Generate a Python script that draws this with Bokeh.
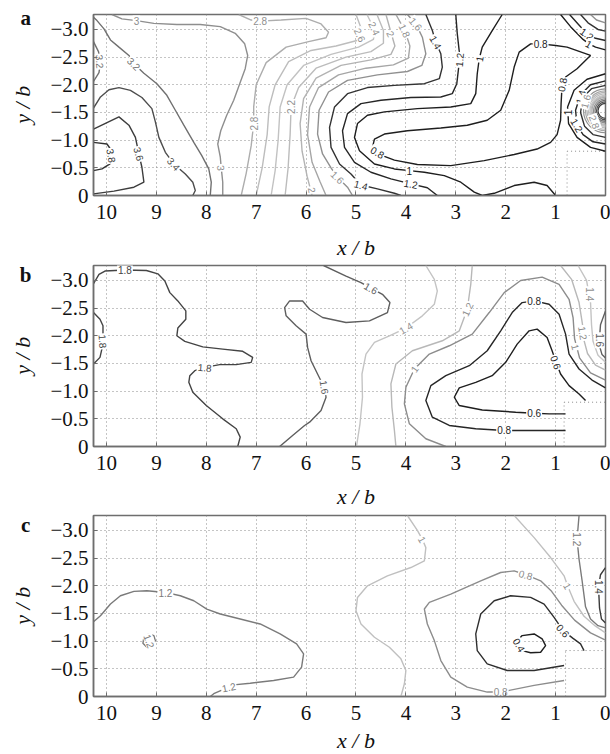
import math
from bokeh.plotting import figure
from bokeh.layouts import column
from bokeh.models import Range1d, FixedTicker, ColumnDataSource, Label, CustomJSTickFormatter
from bokeh.embed import file_html
from bokeh.resources import INLINE
from bokeh.core.properties import value

# ---------------- data ----------------
x_ticks = [10, 9, 8, 7, 6, 5, 4, 3, 2, 1, 0]
y_ticks = [-3.0, -2.5, -2.0, -1.5, -1.0, -0.5, 0.0]
panel_letters = ["a", "b", "c"]

# panel a: contour lines (level, [(x/b, y/b), ...])
a_lines = [
    (3.8, [(10.26, -0.96), (9.99, -0.93), (9.92, -0.84), (9.9, -0.72), (9.93, -0.57), (10.09, -0.48), (10.26, -0.45)]),
    (3.6, [(10.26, -1.2), (9.75, -1.42), (9.55, -1.27), (9.42, -1.05), (9.35, -0.75), (9.29, -0.51), (9.25, -0.24),
           (9.45, -0.15), (9.85, -0.08), (10.26, -0.03)]),
    (3.4, [(10.26, -1.58), (10.12, -1.78), (9.95, -1.91), (9.75, -1.95), (9.52, -1.9), (9.29, -1.77), (9.09, -1.57),
           (9.02, -1.33), (8.95, -1.05), (8.82, -0.78), (8.65, -0.57), (8.42, -0.39), (8.27, -0.24), (8.22, -0.09), (8.27, 0.0)]),
    (3.2, [(10.26, -3.22), (10.19, -3.16), (10.05, -3.01), (9.92, -2.81), (9.75, -2.68), (9.55, -2.53), (9.45, -2.38),
           (9.25, -2.21), (8.99, -2.02), (8.79, -1.81), (8.62, -1.54), (8.45, -1.27), (8.25, -0.96), (8.09, -0.72),
           (7.95, -0.48), (7.9, -0.24), (7.92, 0.0)]),
    (3.2, [(10.26, -2.78), (10.16, -2.6), (10.12, -2.42), (10.15, -2.22), (10.26, -2.06)]),
    (3.0, [(9.89, -3.27), (9.69, -3.19), (9.4, -3.16), (9.05, -3.11), (8.59, -3.09), (8.12, -3.09), (7.72, -3.05),
           (7.42, -2.93), (7.23, -2.74), (7.17, -2.53), (7.22, -2.29), (7.33, -2.02), (7.45, -1.72), (7.59, -1.45),
           (7.71, -1.17), (7.77, -0.93), (7.72, -0.7), (7.7, -0.5), (7.67, -0.24), (7.67, 0.0)]),
    (2.8, [(7.35, -3.27), (7.1, -3.17), (6.92, -3.15), (6.5, -3.17), (6.0, -3.2), (5.7, -3.1), (5.55, -2.95),
           (5.6, -2.85), (5.95, -2.78), (6.4, -2.68), (6.8, -2.4), (7.0, -2.0), (7.05, -1.6), (7.05, -1.3),
           (7.1, -0.9), (7.2, -0.4), (7.3, 0.0)]),
    (2.6, [(5.0, -3.27), (4.88, -2.98), (4.98, -2.8), (5.4, -2.7), (5.9, -2.62), (6.35, -2.42), (6.62, -2.0),
           (6.74, -1.6), (6.78, -1.1), (6.88, -0.5), (7.0, 0.0)]),
    (2.4, [(4.78, -3.27), (4.63, -3.0), (4.65, -2.82), (4.95, -2.68), (5.5, -2.55), (6.05, -2.35), (6.38, -2.0),
           (6.52, -1.6), (6.56, -1.0), (6.62, -0.45), (6.7, 0.0)]),
    (2.2, [(4.58, -3.27), (4.45, -2.98), (4.45, -2.75), (4.7, -2.6), (5.2, -2.5), (5.8, -2.3), (6.15, -1.95),
           (6.3, -1.6), (6.32, -1.1), (6.36, -0.5), (6.42, 0.0)]),
    (2.0, [(4.4, -3.27), (4.3, -2.95), (4.22, -2.7), (4.3, -2.55), (4.7, -2.45), (5.3, -2.35), (5.8, -2.12),
           (6.05, -1.75), (6.12, -1.3), (6.08, -0.8), (5.98, -0.35), (5.88, 0.0)]),
    (1.8, [(4.2, -3.27), (4.02, -2.98), (3.92, -2.7), (3.95, -2.48), (4.25, -2.36), (4.8, -2.3), (5.35, -2.18),
           (5.75, -1.95), (5.93, -1.6), (5.97, -1.1), (5.88, -0.6), (5.72, -0.25), (5.6, 0.0)]),
    (1.6, [(3.97, -3.27), (3.8, -3.1), (3.67, -2.86), (3.6, -2.56), (3.68, -2.35), (3.97, -2.24), (4.57, -2.18),
           (5.17, -2.08), (5.55, -1.87), (5.74, -1.54), (5.77, -1.11), (5.67, -0.75), (5.5, -0.5), (5.37, -0.33),
           (5.17, -0.15), (5.07, 0.0)]),
    (1.4, [(3.6, -3.27), (3.47, -2.98), (3.4, -2.77), (3.3, -2.56), (3.27, -2.32), (3.33, -2.11), (3.63, -2.02),
           (4.23, -1.99), (4.77, -1.95), (5.17, -1.84), (5.43, -1.6), (5.53, -1.23), (5.5, -0.87), (5.33, -0.57),
           (5.1, -0.39), (4.9, -0.19), (4.57, -0.12), (4.23, -0.04), (4.1, 0.0)]),
    (1.2, [(3.0, -3.27), (2.97, -2.92), (2.93, -2.6), (2.93, -2.41), (2.98, -2.02), (3.07, -1.84), (3.3, -1.78),
           (3.9, -1.77), (4.5, -1.72), (4.9, -1.66), (5.17, -1.48), (5.27, -1.17), (5.23, -0.87), (5.03, -0.6),
           (4.7, -0.42), (4.3, -0.3), (3.9, -0.21), (3.57, -0.14), (3.37, 0.0)]),
    (1.0, [(2.07, -3.27), (2.27, -2.98), (2.47, -2.68), (2.53, -2.47), (2.57, -2.2), (2.6, -1.84), (2.7, -1.66),
           (3.1, -1.6), (3.77, -1.57), (4.43, -1.51), (4.77, -1.45), (4.97, -1.3), (5.03, -1.05), (4.93, -0.81),
           (4.63, -0.57), (4.23, -0.48), (3.93, -0.45), (3.63, -0.42), (3.23, -0.36), (2.9, -0.24), (2.63, -0.06),
           (2.47, 0.0), (2.23, -0.04), (1.83, -0.18), (1.43, -0.24), (1.17, -0.18), (1.0, 0.0)]),
    (0.8, [(4.67, -0.87), (4.63, -1.02), (4.43, -1.11), (3.97, -1.17), (3.3, -1.22), (2.77, -1.27), (2.37, -1.36),
           (2.1, -1.54), (1.93, -1.9), (1.83, -2.32), (1.73, -2.59), (1.5, -2.74), (1.3, -2.74), (1.0, -2.71),
           (0.77, -2.68), (0.3, -2.53), (0.57, -2.29), (0.8, -2.14), (0.87, -1.99), (0.89, -1.66), (0.9, -1.36),
           (0.97, -1.1), (1.1, -0.96), (1.37, -0.84), (1.83, -0.74), (2.43, -0.63), (3.1, -0.54), (3.77, -0.56),
           (4.23, -0.64), (4.47, -0.72), (4.57, -0.78), (4.67, -0.87)]),
    (1.0, [(0.9, -3.27), (0.7, -3.05), (0.45, -2.82), (0.33, -2.74), (0.2, -2.68), (0.0, -2.63)]),
    (1.2, [(0.72, -3.27), (0.55, -3.1), (0.37, -2.92), (0.2, -2.84), (0.0, -2.8)]),
    (1.4, [(0.5, -3.27), (0.35, -3.12), (0.15, -3.0), (0.0, -2.97)]),
    (1.6, [(0.3, -3.27), (0.18, -3.17), (0.0, -3.12)]),
    (1.0, [(0.0, -2.2), (0.37, -2.1), (0.63, -1.9), (0.76, -1.6), (0.74, -1.3), (0.57, -1.05), (0.3, -0.87), (0.0, -0.8)]),
    (1.2, [(0.0, -2.07), (0.3, -2.0), (0.5, -1.82), (0.6, -1.54), (0.57, -1.27), (0.45, -1.1), (0.25, -0.97), (0.0, -0.93)]),
    (1.4, [(0.0, -1.99), (0.28, -1.93), (0.45, -1.78), (0.5, -1.5), (0.42, -1.25), (0.25, -1.1), (0.0, -1.05)]),
]
# panel a: closed peak at the right edge (centre, then level / radius in x/b units)
a_peak_center = (0.0, -1.53)
a_peak_levels = [1.6, 1.8, 2.0, 2.2, 2.4, 2.6, 2.8, 3.0, 3.2, 3.4, 3.6]
a_peak_radius = [0.44, 0.40, 0.37, 0.34, 0.31, 0.29, 0.27, 0.24, 0.21, 0.18, 0.15]
a_nodata_corner = (0.77, -0.8)
a_labels = [
    ("3.8", 9.9, -0.72, -80), ("3.6", 9.35, -0.75, -75), ("3.4", 8.65, -0.57, -50),
    ("3.2", 9.45, -2.38, -45), ("3.2", 10.13, -2.42, -85), ("3", 9.4, -3.16, 0), ("3", 7.7, -0.5, -85),
    ("2.8", 6.92, -3.15, 0), ("2.8", 7.05, -1.3, 90), ("2.2", 6.3, -1.6, 90),
    ("2.6", 4.92, -2.9, -65), ("2.4", 4.63, -3.02, -65), ("2", 4.3, -2.92, -65), ("1.8", 4.02, -2.98, -65),
    ("1.6", 3.8, -3.1, -50), ("1.4", 3.4, -2.77, -60), ("1.2", 2.93, -2.45, 85), ("1", 2.53, -2.47, 80),
    ("0.8", 1.3, -2.74, 0), ("0.8", 0.87, -2.0, 80), ("1.2", 0.37, -2.92, -35), ("1", 0.33, -2.74, -30),
    ("1", 0.76, -1.5, 90), ("1.4", 0.5, -1.78, 75), ("1.6", 0.4, -1.7, 75), ("2.8", 0.22, -1.33, -70),
    ("1.2", 0.57, -1.27, -60), ("0.8", 4.57, -0.78, -30), ("1", 3.93, -0.45, 0), ("1.2", 3.9, -0.21, -10),
    ("1.4", 4.9, -0.19, -15), ("1.6", 5.37, -0.33, -45), ("2", 5.88, -0.1, -80),
]

# panel b
b_lines = [
    (1.8, [(10.26, -2.94), (10.15, -3.11), (10.03, -3.17), (9.63, -3.19), (9.2, -3.18), (8.97, -3.12), (8.83, -2.99),
           (8.73, -2.78), (8.57, -2.63), (8.41, -2.45), (8.41, -2.3), (8.57, -2.14), (8.59, -2.0), (8.43, -1.9),
           (8.07, -1.8), (7.67, -1.76), (7.27, -1.72), (7.07, -1.61), (7.1, -1.52), (7.4, -1.48), (7.73, -1.48),
           (8.03, -1.43), (8.23, -1.37), (8.33, -1.28), (8.35, -1.16), (8.27, -0.98), (8.0, -0.74), (7.67, -0.5),
           (7.4, -0.32), (7.32, -0.17), (7.37, 0.0)]),
    (1.8, [(10.26, -2.42), (10.13, -2.3), (10.07, -2.18), (10.07, -1.85), (10.13, -1.61), (10.26, -1.49)]),
    (1.6, [(5.65, -3.27), (5.2, -3.08), (4.9, -2.96), (4.7, -2.86), (4.47, -2.75), (4.32, -2.6), (4.37, -2.42),
           (4.73, -2.27), (5.2, -2.24), (5.67, -2.33), (5.93, -2.48), (6.07, -2.63), (6.33, -2.63), (6.43, -2.51),
           (6.4, -2.36), (6.2, -2.18), (6.0, -2.03), (5.97, -1.79), (5.9, -1.55), (5.77, -1.31), (5.67, -1.13),
           (5.63, -1.07), (5.6, -0.89), (5.7, -0.65), (5.93, -0.44), (6.03, -0.38), (6.27, -0.2), (6.53, 0.0)]),
    (1.4, [(3.6, -3.27), (3.43, -3.02), (3.37, -2.81), (3.43, -2.57), (3.67, -2.36), (4.0, -2.14), (4.33, -2.0),
           (4.63, -1.88), (4.8, -1.67), (4.88, -1.31), (4.87, -0.89), (4.92, -0.41), (4.99, 0.0)]),
    (1.2, [(2.67, -3.27), (2.7, -2.93), (2.77, -2.48), (2.93, -2.09), (3.27, -1.91), (3.87, -1.73), (4.2, -1.49),
           (4.3, -1.13), (4.28, -0.71), (4.23, -0.29), (4.2, 0.0)]),
    (1.0, [(3.2, 0.0), (3.6, -0.14), (3.93, -0.41), (4.03, -0.77), (4.0, -1.07), (3.83, -1.4), (3.53, -1.67),
           (3.13, -1.82), (2.67, -2.03), (2.33, -2.42), (2.03, -2.78), (1.7, -3.0), (1.27, -3.06), (0.93, -2.93),
           (0.73, -2.66), (0.65, -2.33), (0.62, -1.95), (0.52, -1.6), (0.3, -1.33), (0.0, -1.2)]),
    (0.8, [(0.8, -0.29), (1.27, -0.29), (2.03, -0.29), (2.6, -0.32), (3.13, -0.38), (3.47, -0.53), (3.6, -0.83),
           (3.5, -1.1), (3.2, -1.28), (2.73, -1.46), (2.37, -1.73), (2.1, -2.09), (1.87, -2.42), (1.67, -2.6),
           (1.43, -2.63), (1.13, -2.57), (0.93, -2.39), (0.8, -2.03), (0.73, -1.67), (0.53, -1.4), (0.27, -1.2),
           (0.0, -1.06)]),
    (0.6, [(0.8, -0.59), (1.13, -0.59), (1.43, -0.6), (1.8, -0.62), (2.47, -0.66), (2.93, -0.74), (3.03, -0.89),
           (2.93, -1.06), (2.6, -1.16), (2.27, -1.28), (2.0, -1.52), (1.77, -1.85), (1.53, -2.09), (1.37, -2.12),
           (1.17, -1.97), (1.07, -1.73), (0.99, -1.52), (0.9, -1.31), (0.73, -1.1), (0.53, -0.95), (0.4, -0.83)]),
    (1.2, [(0.9, -3.27), (0.68, -3.02), (0.53, -2.6), (0.46, -2.2), (0.44, -1.95), (0.36, -1.68), (0.2, -1.47), (0.0, -1.38)]),
    (1.4, [(0.55, -3.27), (0.38, -3.0), (0.3, -2.6), (0.28, -2.2), (0.25, -1.9), (0.15, -1.65), (0.0, -1.52)]),
    (1.6, [(0.0, -2.45), (0.1, -2.2), (0.13, -1.85), (0.07, -1.66), (0.0, -1.6)]),
]
b_nodata_corner = (0.83, -0.8)
b_labels = [
    ("1.8", 9.63, -3.19, 0), ("1.8", 10.07, -1.9, -85), ("1.8", 8.03, -1.43, -5),
    ("1.6", 4.7, -2.86, -30), ("1.6", 5.63, -1.07, -80), ("1.4", 4.0, -2.14, 30),
    ("1.2", 2.77, -2.48, 65), ("1", 3.83, -1.4, 55), ("0.8", 1.43, -2.63, 0), ("0.8", 2.03, -0.29, 0),
    ("0.6", 1.43, -0.6, 0), ("0.6", 0.99, -1.52, -70), ("1.4", 0.32, -2.75, -90), ("1.2", 0.45, -2.05, -80),
    ("1", 0.6, -1.8, -75), ("1.6", 0.12, -1.92, -90),
]

# panel c
c_lines = [
    (1.2, [(10.26, -1.35), (10.12, -1.46), (9.92, -1.67), (9.72, -1.82), (9.45, -1.9), (9.19, -1.91), (8.82, -1.88),
           (8.52, -1.82), (8.25, -1.73), (7.99, -1.58), (7.72, -1.49), (7.32, -1.4), (6.92, -1.31), (6.52, -1.13),
           (6.19, -0.95), (6.05, -0.77), (6.09, -0.53), (6.25, -0.35), (6.65, -0.29), (7.12, -0.24), (7.45, -0.21),
           (7.55, -0.17), (7.85, -0.05), (7.92, 0.0)]),
    (1.2, [(9.25, -1.07), (9.15, -1.13), (9.05, -1.1), (9.02, -1.01), (9.09, -0.92), (9.19, -0.89), (9.27, -0.96), (9.25, -1.07)]),
    (1.0, [(3.97, -3.27), (3.77, -3.0), (3.67, -2.84), (3.6, -2.69), (3.63, -2.45), (3.9, -2.33), (4.37, -2.18),
           (4.77, -2.0), (4.97, -1.79), (5.0, -1.55), (4.9, -1.31), (4.63, -1.07), (4.33, -0.89), (4.1, -0.68),
           (4.0, -0.47), (4.03, -0.23), (4.1, 0.0)]),
    (0.8, [(0.83, -0.29), (1.43, -0.2), (2.1, -0.08), (2.37, -0.08), (2.77, -0.17), (3.1, -0.35), (3.3, -0.65),
           (3.43, -1.01), (3.57, -1.31), (3.63, -1.58), (3.53, -1.7), (3.1, -1.85), (2.5, -2.09), (2.1, -2.24),
           (1.83, -2.27), (1.6, -2.2), (1.3, -2.09), (1.08, -1.9), (0.88, -1.65), (0.62, -1.38), (0.3, -1.15), (0.0, -1.02)]),
    (0.6, [(0.83, -0.56), (1.43, -0.47), (1.97, -0.47), (2.37, -0.59), (2.57, -0.83), (2.6, -1.13), (2.5, -1.49),
           (2.23, -1.73), (1.9, -1.82), (1.5, -1.79), (1.23, -1.67), (1.03, -1.43), (0.85, -1.19), (0.65, -1.05),
           (0.5, -0.95), (0.43, -0.83)]),
    (0.4, [(1.8, -0.98), (1.67, -1.1), (1.43, -1.13), (1.27, -1.04), (1.2, -0.92), (1.3, -0.8), (1.5, -0.79), (1.67, -0.83), (1.75, -0.9)]),
    (1.0, [(1.83, -3.27), (1.43, -2.87), (1.1, -2.51), (0.83, -2.18), (0.76, -2.0), (0.63, -1.72), (0.43, -1.45), (0.2, -1.27), (0.0, -1.15)]),
    (1.2, [(0.53, -3.27), (0.57, -2.84), (0.53, -2.48), (0.47, -2.1), (0.4, -1.62), (0.3, -1.4), (0.15, -1.28), (0.0, -1.24)]),
    (1.4, [(0.0, -2.33), (0.1, -2.2), (0.14, -1.98), (0.12, -1.6), (0.08, -1.4), (0.0, -1.33)]),
]
c_nodata_corner = (0.8, -0.83)
c_labels = [
    ("1.2", 8.82, -1.87, 0), ("1.2", 7.55, -0.17, 12), ("1.2", 9.14, -1.0, -70),
    ("1", 3.67, -2.84, -60), ("0.8", 1.6, -2.2, -15), ("1", 0.76, -2.0, -60), ("0.6", 0.85, -1.19, -50),
    ("0.4", 1.73, -0.93, -60), ("0.8", 2.1, -0.08, 0), ("1.2", 0.57, -2.84, -90), ("1.4", 0.14, -1.98, -90),
]

# ---------------- styles ----------------
A_COL = {0.8: "#1e1e1e", 1.0: "#1e1e1e", 1.2: "#262626", 1.4: "#333333", 1.6: "#909090", 1.8: "#a6a6a6",
         2.0: "#b3b3b3", 2.2: "#bcbcbc", 2.4: "#c2c2c2", 2.6: "#bdbdbd", 2.8: "#adadad", 3.0: "#8e8e8e",
         3.2: "#707070", 3.4: "#4d4d4d", 3.6: "#3d3d3d", 3.8: "#333333"}
B_COL = {0.6: "#1e1e1e", 0.8: "#262626", 1.0: "#8c8c8c", 1.2: "#b8b8b8", 1.4: "#c4c4c4", 1.6: "#5e5e5e", 1.8: "#444444"}
C_COL = {0.4: "#1e1e1e", 0.6: "#2e2e2e", 0.8: "#8c8c8c", 1.0: "#c0c0c0", 1.2: "#7a7a7a", 1.4: "#3a3a3a"}

FRAME = "#6e6e6e"
SERIF = "Liberation Serif"


def text_col(c):
    v = int(c[1:3], 16)
    v = min(v, 0x90)
    return "#%02x%02x%02x" % (v, v, v)


def panel(letter, lines, colors, labels, nodata, height, top, bottom, letter_y, xlab_y, peak=None):
    p = figure(width=610, height=height, x_range=Range1d(10.26, 0), y_range=Range1d(0, -3.27),
               output_backend="svg", toolbar_location=None,
               min_border_left=93, min_border_right=5, min_border_top=top, min_border_bottom=bottom,
               background_fill_color="white", border_fill_color="white")
    p.outline_line_color = FRAME
    p.outline_line_width = 1.5

    p.xaxis.ticker = FixedTicker(ticks=x_ticks)
    p.yaxis.ticker = FixedTicker(ticks=y_ticks)
    p.yaxis.formatter = CustomJSTickFormatter(
        code="return tick == 0 ? '0' : '\u2212' + Math.abs(tick).toFixed(1);")
    for ax in (p.xaxis[0], p.yaxis[0]):
        ax.axis_line_color = FRAME
        ax.axis_line_width = 1.5
        ax.major_tick_line_color = FRAME
        ax.major_tick_in = 4
        ax.major_tick_out = 0
        ax.minor_tick_line_color = None
        ax.major_label_text_font = SERIF
        ax.major_label_text_font_size = "21px"
        ax.major_label_text_color = "#111111"
    p.xaxis.major_label_standoff = 9
    p.yaxis.major_label_standoff = 5

    p.grid.grid_line_color = "#8a8a8a"
    p.grid.grid_line_dash = "1 3"
    p.grid.grid_line_width = 1

    # outline of the region without data
    bx, by = nodata
    p.multi_line(xs=[[bx, bx], [bx, 0]], ys=[[0, by], [by, by]], line_color="#8a8a8a", line_dash="1 3", line_width=1)

    xs = [[pt[0] for pt in pts] for lev, pts in lines]
    ys = [[pt[1] for pt in pts] for lev, pts in lines]
    cols = [colors[round(lev, 1)] for lev, pts in lines]
    src = ColumnDataSource(dict(xs=xs, ys=ys, color=cols))
    p.multi_line("xs", "ys", source=src, line_color="color", line_width=1.4)

    if peak is not None:
        (cx, cy), levs, rads = peak
        psrc = ColumnDataSource(dict(x=[cx] * len(levs), y=[cy] * len(levs), r=rads,
                                     color=[colors[round(l, 1)] for l in levs]))
        p.circle(x="x", y="y", radius="r", source=psrc, fill_color=None, line_color="color", line_width=1.2)

    lsrc = ColumnDataSource(dict(
        x=[l[1] for l in labels], y=[l[2] for l in labels], text=[l[0] for l in labels],
        angle=[math.radians(l[3]) for l in labels],
        color=[text_col(colors[round(float(l[0]), 1)]) for l in labels]))
    p.text(x="x", y="y", text="text", angle="angle", source=lsrc, text_font=value("Liberation Sans"),
           text_font_size="10px", text_align="center", text_baseline="middle", text_color="color",
           background_fill_color="white", padding=1)

    # titles placed in side panels (not clipped by the frame)
    p.add_layout(Label(x=11.62, y=letter_y, text=letter, text_font=SERIF, text_font_style="bold",
                       text_font_size="21px", text_align="center", text_baseline="middle",
                       text_color="#111111"), "left")
    p.add_layout(Label(x=11.68, y=-1.64, text="y / b", text_font=SERIF, text_font_style="italic",
                       text_font_size="22px", text_align="center", text_baseline="middle", angle=math.pi / 2,
                       text_color="#111111"), "left")
    p.add_layout(Label(x=5.0, y=xlab_y, text="x / b", text_font=SERIF, text_font_style="italic",
                       text_font_size="22px", text_align="center", text_baseline="middle",
                       text_color="#111111"), "below")
    return p


pa = panel(panel_letters[0], a_lines, A_COL, a_labels, a_nodata_corner, 262, 14, 67, -3.2, 0.94,
           peak=(a_peak_center, a_peak_levels, a_peak_radius))
pb = panel(panel_letters[1], b_lines, B_COL, b_labels, b_nodata_corner, 250, 3, 66, -3.1, 0.9)
pc = panel(panel_letters[2], c_lines, C_COL, c_labels, c_nodata_corner, 242, 3, 58, -3.1, 0.8)

layout = column(pa, pb, pc, spacing=0)
open("out.html", "w").write(file_html(layout, INLINE))
